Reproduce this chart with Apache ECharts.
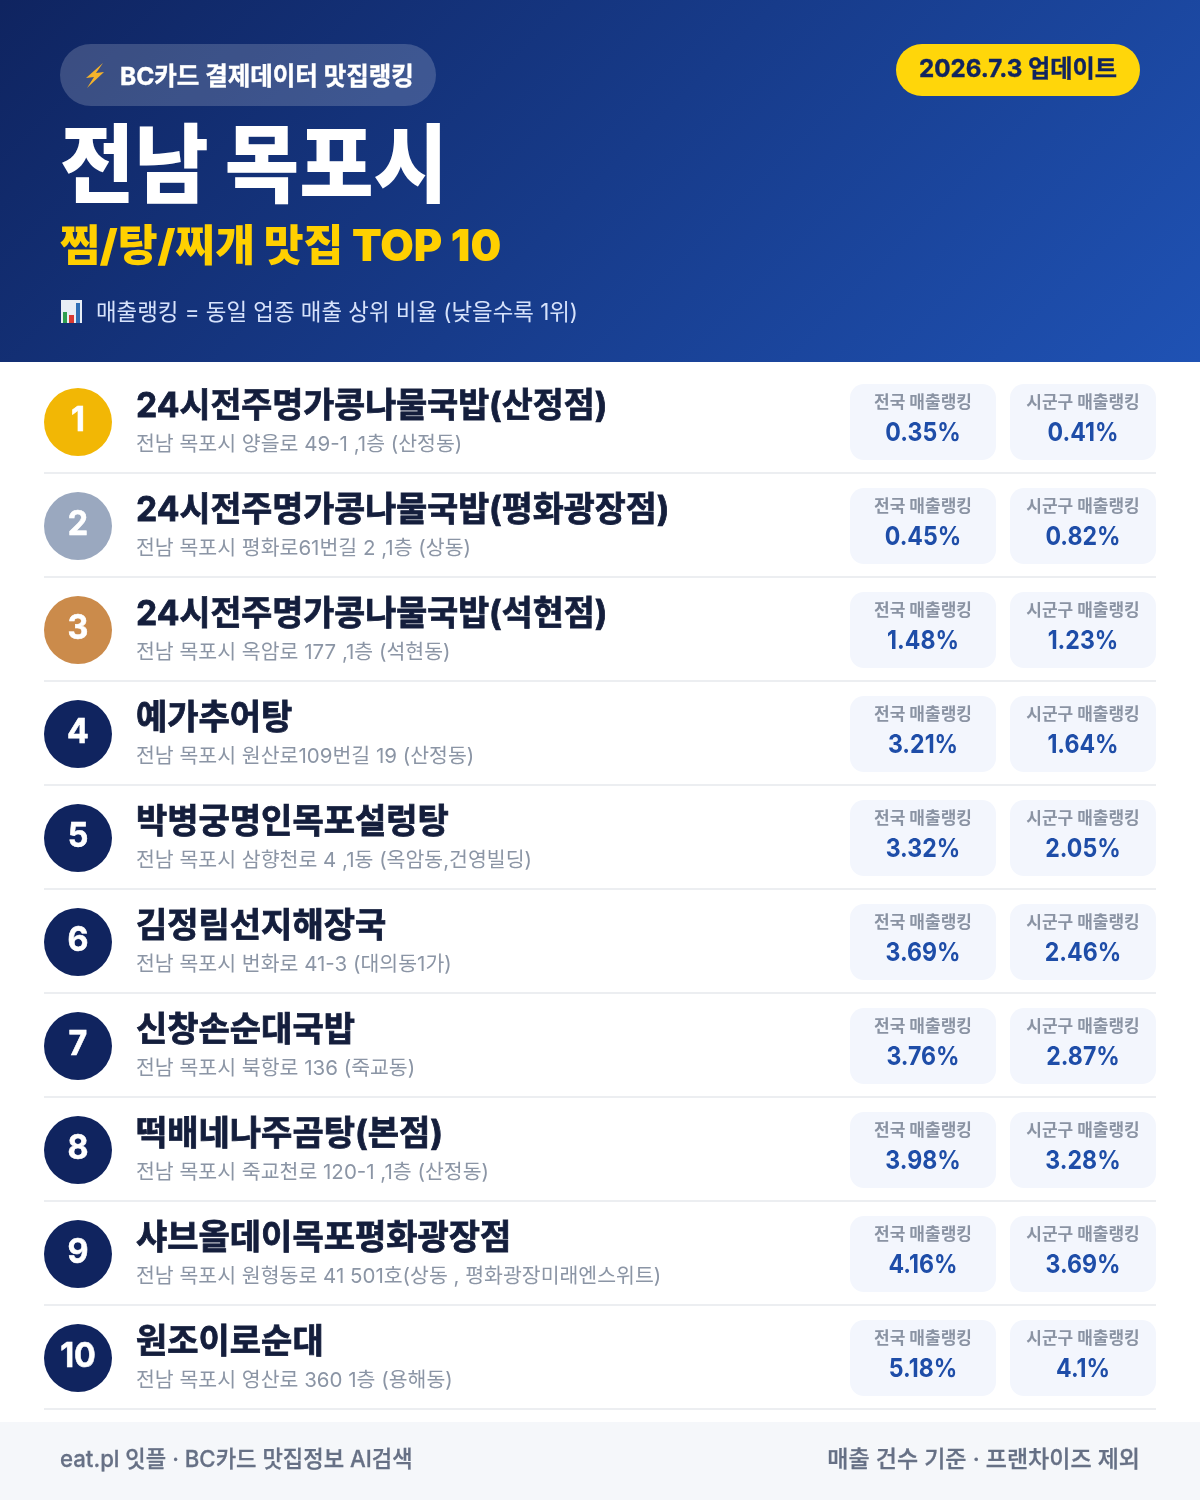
<!DOCTYPE html>
<html lang="ko">
<head>
<meta charset="utf-8">
<title>전남 목포시 찜/탕/찌개 맛집 TOP 10</title>
<script src="https://cdn.jsdelivr.net/npm/echarts@6/dist/echarts.min.js"></script>
<style>
html, body { margin: 0; padding: 0; background: #fff; }
#chart { width: 1200px; height: 1500px; }
</style>
</head>
<body>
<div id="chart"></div>
<script>
var ranks = [1, 2, 3, 4, 5, 6, 7, 8, 9, 10];
var names = ["24시전주명가콩나물국밥(산정점)", "24시전주명가콩나물국밥(평화광장점)", "24시전주명가콩나물국밥(석현점)", "예가추어탕", "박병궁명인목포설렁탕", "김정림선지해장국", "신창손순대국밥", "떡배네나주곰탕(본점)", "샤브올데이목포평화광장점", "원조이로순대"];
var addresses = ["전남 목포시 양을로 49-1 ,1층 (산정동)", "전남 목포시 평화로61번길 2 ,1층 (상동)", "전남 목포시 옥암로 177 ,1층 (석현동)", "전남 목포시 원산로109번길 19 (산정동)", "전남 목포시 삼향천로 4 ,1동 (옥암동,건영빌딩)", "전남 목포시 번화로 41-3 (대의동1가)", "전남 목포시 북항로 136 (죽교동)", "전남 목포시 죽교천로 120-1 ,1층 (산정동)", "전남 목포시 원형동로 41 501호(상동 , 평화광장미래엔스위트)", "전남 목포시 영산로 360 1층 (용해동)"];
var nationalRank = [0.35, 0.45, 1.48, 3.21, 3.32, 3.69, 3.76, 3.98, 4.16, 5.18];
var districtRank = [0.41, 0.82, 1.23, 1.64, 2.05, 2.46, 2.87, 3.28, 3.69, 4.1];
var badgeColors = ["#f2b705", "#9aa8bf", "#cb8b4b", "#10245f", "#10245f", "#10245f", "#10245f", "#10245f", "#10245f", "#10245f"];

var FONT = 'Inter, "Noto Sans CJK KR", sans-serif';
var chart = echarts.init(document.getElementById("chart"));

// sx squeezes the text a bit, the original has tighter letter spacing
function txt(x, y, text, size, weight, fill, align, sx, bold) {
    return {
        type: "text",
        x: x,
        y: y,
        scaleX: sx || 1,
        style: { x: 0, y: 0, text: text, fontFamily: FONT, fontSize: size, fontWeight: weight, fill: fill, align: align || "left", verticalAlign: "middle", stroke: bold ? fill : null, lineWidth: bold || 0 }
    };
}

function pill(x, cy, label, value) {
    return [
        { type: "rect", shape: { x: x, y: cy - 38, width: 146, height: 76, r: 14 }, style: { fill: "#f3f6fd" } },
        txt(x + 73, cy - 19, label, 17, 700, "#8a93a3", "center"),
        txt(x + 73, cy + 11, value + "%", 26, 700, "#1e4da8", "center", 0.89)
    ];
}

function renderRow(params, api) {
    var i = api.value(0);
    var p = api.coord([0, i]);
    var cy = p[1];
    var kids = [
        { type: "circle", shape: { cx: 78, cy: cy, r: 34 }, style: { fill: badgeColors[i] } },
        txt(78, cy - 1, String(ranks[i]), 34, 700, "#fff", "center", 0.95, 0.6),
        txt(136, cy - 15, names[i], 34, 700, "#141e3c", "left", /^\d/.test(names[i]) ? 0.99 : 1, 0.8),
        txt(136, cy + 23, addresses[i], 20.5, 400, "#8b95a5"),
        { type: "rect", shape: { x: 44, y: cy + 50, width: 1112, height: 2 }, style: { fill: "#eceef1" } }
    ];
    kids = kids.concat(pill(850, cy, "전국 매출랭킹", api.value(1)));
    kids = kids.concat(pill(1010, cy, "시군구 매출랭킹", api.value(2)));
    return { type: "group", children: kids };
}

chart.setOption({
    animation: false,
    grid: { left: 0, right: 0, top: 370, height: 1040 },
    xAxis: { type: "value", min: 0, max: 1200, show: false },
    yAxis: { type: "category", inverse: true, data: names, show: false },
    series: [{
        type: "custom",
        silent: true,
        renderItem: renderRow,
        encode: { x: 1, y: 0 },
        data: ranks.map(function (r, i) { return [i, nationalRank[i], districtRank[i]]; })
    }],
    graphic: [
        { type: "rect", z: -1, shape: { x: 0, y: 0, width: 1200, height: 362 },
          style: { fill: new echarts.graphic.LinearGradient(210, -209, 990, 571, [{ offset: 0, color: "#0f2460" }, { offset: 1, color: "#1f52b4" }], true) } },
        { type: "rect", shape: { x: 60, y: 44, width: 376, height: 62, r: 31 }, style: { fill: "rgba(255,255,255,0.18)" } },
        { type: "polygon", shape: { points: [[103, 63], [86, 78], [94, 77], [87, 88], [104, 72], [96, 73]] }, style: { fill: "#f5b32a" } },
        txt(120, 78, "BC카드 결제데이터 맛집랭킹", 24.5, 700, "#fff", "left", 1, 0.4),
        { type: "rect", shape: { x: 896, y: 44, width: 244, height: 52, r: 26 }, style: { fill: "#ffd60a" } },
        txt(1018, 70, "2026.7.3 업데이트", 24.2, 700, "#10245f", "center", 1, 0.4),
        txt(60, 170, "전남 목포시", 86, 900, "#fff", "left", 0.94),
        txt(60, 248, "찜/탕/찌개 맛집 TOP 10", 43.3, 900, "#ffd000"),
        { type: "rect", shape: { x: 61, y: 300, width: 21, height: 23 }, style: { fill: "#e8eef5" } },
        { type: "rect", shape: { x: 63, y: 312, width: 4, height: 11 }, style: { fill: "#2e9e4f" } },
        { type: "rect", shape: { x: 69, y: 315, width: 5, height: 8 }, style: { fill: "#d93a32" } },
        { type: "rect", shape: { x: 76, y: 303, width: 4, height: 20 }, style: { fill: "#2f6fb5" } },
        txt(96, 313, "매출랭킹 = 동일 업종 매출 상위 비율 (낮을수록 1위)", 22.4, 400, "#d6e2fb"),
        { type: "rect", shape: { x: 0, y: 1422, width: 1200, height: 78 }, style: { fill: "#f5f7fa" } },
        txt(60, 1460, "eat.pl 잇플 · BC카드 맛집정보 AI검색", 23, 500, "#667085", "left", 0.965, 0.3),
        txt(1140, 1460, "매출 건수 기준 · 프랜차이즈 제외", 23, 500, "#667085", "right", 1, 0.3)
    ]
});
</script>
</body>
</html>
